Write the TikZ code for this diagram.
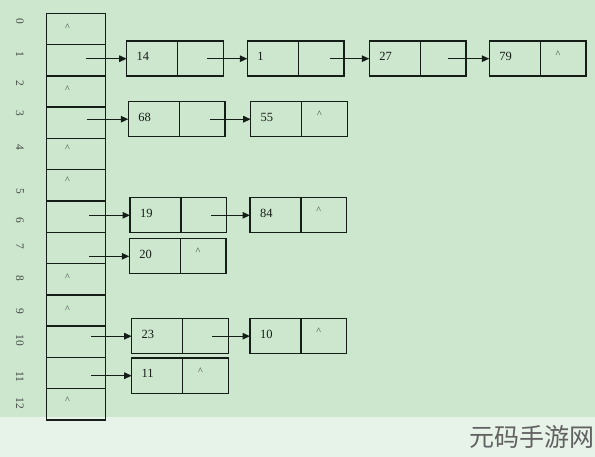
\documentclass[tikz,border=0pt]{standalone}
\usepackage{fontspec}
\setmainfont{Liberation Serif}
\newfontfamily\cjk{Noto Sans CJK SC}
\usetikzlibrary{arrows.meta}
\definecolor{bgg}{RGB}{205,231,207}
\definecolor{bgl}{RGB}{231,243,233}
\definecolor{lc}{RGB}{20,30,22}
\definecolor{tc}{RGB}{22,28,22}
\tikzset{
  box/.style={draw=lc, line width=1.4pt, inner sep=0pt, outer sep=0pt},
  cell/.style={box, minimum width=58.6pt, minimum height=31.28pt, anchor=north west},
  datab/.style={box, minimum height=35pt, text width=31pt, inner xsep=10pt, align=left,
     text height=8.5pt, text depth=4.5pt, font=\fontsize{12.5}{13}\selectfont, text=tc, anchor=west},
  ptrb/.style={box, minimum height=35pt, minimum width=45.5pt, anchor=west},
  caret/.style={inner sep=0pt, anchor=base, font=\fontsize{10}{10}\selectfont, text=tc!85!white},
  idx/.style={inner sep=0pt, rotate=-90, font=\fontsize{11.5}{12}\selectfont, text=tc!80!white},
  arr/.style={draw=lc, line width=1.3pt, -{Triangle[length=7.5pt,width=6.5pt]}},
}
\begin{document}
\begin{tikzpicture}[x=1pt,y=-1pt]
\useasboundingbox (0,0) rectangle (595,457);
\fill[bgg] (0,0) rectangle (595,416.5);
\fill[bgl] (0,416.5) rectangle (595,457);
% index labels
\foreach \i/\yy in {0/21.7,1/54,2/83,3/113,4/147,5/191.7,6/220,7/246.7,8/278,9/311.7,10/340,11/376.7,12/403.3}{
  \node[idx] (l\i) at (20,\yy) {\i};
}
% bucket cells
\foreach \i in {0,...,12}{
  \node[cell] (c\i) at (46.7,13.3+\i*31.28) {};
}
% empty-bucket carets
\foreach \i/\yy in {0/26,2/88.3,4/146.7,5/179,8/276,9/307.7,12/399.3}{
  \node[caret] (k\i) at (67.5,\yy+4.6) {\textasciicircum};
}
% list nodes
\newcommand{\lnode}[4]{%
  \node[datab] (#1d) at (#2,#3) {#4};
  \node[ptrb] (#1p) at (#1d.east) {};
}
\lnode{n14}{126.7}{58.7}{14}
\lnode{n1}{247.3}{58.7}{1}
\lnode{n27}{369.3}{58.7}{27}
\lnode{n79}{489.3}{58.7}{79}
\lnode{n68}{128.3}{119.2}{68}
\lnode{n55}{250.7}{119.2}{55}
\lnode{n19}{130}{215.3}{19}
\lnode{n84}{250}{215.3}{84}
\lnode{n20}{129.3}{256.3}{20}
\lnode{n23}{131.7}{336.2}{23}
\lnode{n10}{250}{336.2}{10}
\lnode{n11}{131.7}{375.7}{11}
% null carets in nodes
\foreach \n in {n79,n55,n84,n20,n10,n11}{
  \node[caret] (k\n) at ([shift={(-5,-1.5)}]\n p.center) {\textasciicircum};
}
% arrows from buckets
\coordinate (a1) at (86,58.7);
\coordinate (a3) at (86.7,119.2);
\coordinate (a6) at (89.3,215.3);
\coordinate (a7) at (89.3,256.3);
\coordinate (a10) at (91,336.2);
\coordinate (a11) at (91,375.7);
\draw[arr] (a1) -- (n14d.west);
\draw[arr] (a3) -- (n68d.west);
\draw[arr] (a6) -- (n19d.west);
\draw[arr] (a7) -- (n20d.west);
\draw[arr] (a10) -- (n23d.west);
\draw[arr] (a11) -- (n11d.west);
% arrows between nodes
\coordinate (b14) at ([xshift=6.4pt]n14p.center);
\coordinate (b1) at ([xshift=9pt]n1p.center);
\coordinate (b27) at ([xshift=4.5pt]n27p.center);
\coordinate (b68) at ([xshift=8pt]n68p.center);
\coordinate (b19) at ([xshift=7pt]n19p.center);
\coordinate (b23) at ([xshift=7pt]n23p.center);
\draw[arr] (b14) -- (n1d.west);
\draw[arr] (b1) -- (n27d.west);
\draw[arr] (b27) -- (n79d.west);
\draw[arr] (b68) -- (n55d.west);
\draw[arr] (b19) -- (n84d.west);
\draw[arr] (b23) -- (n10d.west);
% watermark
\node[anchor=west, inner sep=0pt, font=\cjk\fontsize{25}{25}\selectfont, text=black!62] (wm) at (469,437) {元码手游网};
\end{tikzpicture}
\end{document}
